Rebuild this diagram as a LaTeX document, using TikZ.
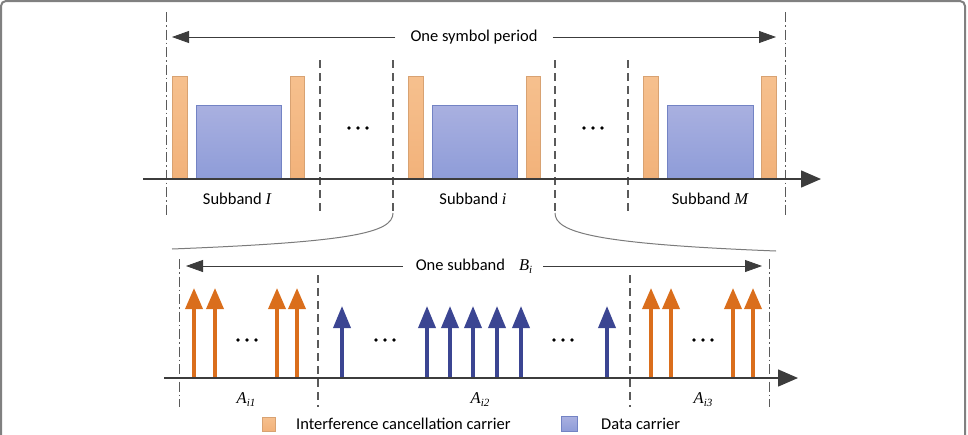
\documentclass[tikz,border=0pt]{standalone}
\usepackage{fontspec}
\setmainfont{Carlito}
\newfontfamily\tms{Liberation Serif}
\usetikzlibrary{arrows.meta}
\definecolor{orfill}{HTML}{F6C08E}
\definecolor{orfillb}{HTML}{F2B27A}
\definecolor{ordraw}{HTML}{D8A272}
\definecolor{blfill}{HTML}{A9B0E0}
\definecolor{blfillb}{HTML}{8E9CD8}
\definecolor{bldraw}{HTML}{7383C4}
\definecolor{orarrow}{HTML}{DA6E1C}
\definecolor{blarrow}{HTML}{3B4592}
\definecolor{axisgray}{HTML}{3C3C3C}
\definecolor{guide}{HTML}{5A5A5A}
\tikzset{
  lbl/.style={font=\fontsize{16.5}{19}\selectfont, inner sep=1pt},
  icbar/.style={draw=ordraw, top color=orfill, bottom color=orfillb, line width=0.8pt},
  databox/.style={draw=bldraw, top color=blfill, bottom color=blfillb, line width=0.8pt},
  dashln/.style={guide, line width=1.2pt, dash pattern=on 8pt off 5pt},
  dashdot/.style={guide, line width=0.9pt, dash pattern=on 10pt off 3pt on 1.5pt off 3pt},
  axis/.style={axisgray, line width=1.5pt, -{Triangle[length=20pt,width=17pt]}},
  span/.style={axisgray, line width=0.8pt, -{Triangle[length=17pt,width=12pt]}},
  orcar/.style={orarrow, line width=3.5pt, -{Triangle[length=21pt,width=17pt]}},
  blcar/.style={blarrow, line width=3.5pt, -{Triangle[length=22pt,width=17pt]}},
  dots/.style={minimum width=26pt, minimum height=6pt, inner sep=0pt,
    path picture={\foreach \k in {-9,0,9} \fill[black] ([xshift=\k pt]path picture bounding box.center) circle (1.9pt);}},
  curve/.style={guide!80, line width=1pt},
}
\newcommand{\mi}[1]{{\tms\itshape #1}}
\newcommand{\subl}[2]{{\tms\itshape #1}\raisebox{-3pt}{\fontsize{11}{11}\selectfont\tms\itshape #2}}
\begin{document}
\begin{tikzpicture}[x=1pt,y=-1pt]
\useasboundingbox (0,0) rectangle (968,434);
\begin{scope}
\clip (0,0) rectangle (968,434);
\draw[gray, line width=2pt, rounded corners=5pt] (1,1) rectangle (965,470);
\end{scope}

% ---------- top part ----------
\draw[dashdot] (166,12) -- (166,215);
\draw[dashdot] (785,12) -- (785,215);
\foreach \x in {320,393,555,628} \draw[dashln] (\x,60) -- (\x,215);

\node[lbl] (osp) at (474,37) {One symbol period};
\coordinate (ospL) at (172,37);
\coordinate (ospR) at (776,37);
\draw[span] ([xshift=-14pt]osp.west) -- (ospL);
\draw[span] ([xshift=14pt]osp.east) -- (ospR);

% subband 1
\fill[icbar] (172,76) rectangle (187,179);
\fill[databox] (196,105) rectangle (281,179);
\fill[icbar] (290,76) rectangle (304,179);
% subband i
\fill[icbar] (408,76) rectangle (423,179);
\fill[databox] (432,105) rectangle (517,179);
\fill[icbar] (526,76) rectangle (540,179);
% subband M
\fill[icbar] (643,76) rectangle (658,179);
\fill[databox] (667,105) rectangle (753,179);
\fill[icbar] (761,76) rectangle (776,179);

\coordinate (ax1s) at (143,179);
\coordinate (ax1e) at (821,179);
\draw[axis] (ax1s) -- (ax1e);

\node[dots] (d1) at (358,128) {};
\node[dots] (d2) at (593,128) {};

\node[lbl] (sb1) at (237,199) {Subband \mi{I}};
\node[lbl] (sbi) at (473,199) {Subband \mi{i}};
\node[lbl] (sbM) at (710,199) {Subband \mi{M}};

% zoom curves
\coordinate (cl0) at (393,213);
\coordinate (cl1) at (172,249);
\coordinate (cr0) at (555,213);
\coordinate (cr1) at (776,251);
\draw[curve] (cl0) .. controls (393,233) and (350,242) .. (cl1);
\draw[curve] (cr0) .. controls (555,233) and (598,244) .. (cr1);

% ---------- bottom part ----------
\draw[dashdot] (179,259) -- (179,407);
\draw[dashdot] (769,259) -- (769,407);
\foreach \x in {318,630} \draw[dashln] (\x,275) -- (\x,407);

\node[lbl] (osb) at (474,266) {One subband\hspace{14pt}\subl{B}{i}};
\coordinate (osbL) at (186,266);
\coordinate (osbR) at (762,266);
\draw[span] ([xshift=-12pt]osb.west) -- (osbL);
\draw[span] ([xshift=10pt]osb.east) -- (osbR);

\foreach \x in {194,215,277,297,651,671,733,753}
  \draw[orcar] (\x,378) -- (\x,288);
\foreach \x in {342,427,450,473,497,521,607}
  \draw[blcar] (\x,378) -- (\x,306);

\coordinate (ax2s) at (164,378);
\coordinate (ax2e) at (798,378);
\draw[axis] (ax2s) -- (ax2e);

\node[dots] (d3) at (247,340) {};
\node[dots] (d4) at (385,340) {};
\node[dots] (d5) at (563,340) {};
\node[dots] (d6) at (703,340) {};

\node[lbl] (a1) at (246,400) {\subl{A}{i1}};
\node[lbl] (a2) at (480,400) {\subl{A}{i2}};
\node[lbl] (a3) at (703,400) {\subl{A}{i3}};

% legend
\node[icbar, minimum width=13pt, minimum height=14pt, inner sep=0pt] (lg1) at (269,424) {};
\node[lbl, anchor=west] (lt1) at (295,424) {Interference cancellation carrier};
\node[databox, minimum width=16pt, minimum height=15pt, inner sep=0pt] (lg2) at (569,424) {};
\node[lbl, anchor=west] (lt2) at (600,424) {Data carrier};
\end{tikzpicture}
\end{document}
